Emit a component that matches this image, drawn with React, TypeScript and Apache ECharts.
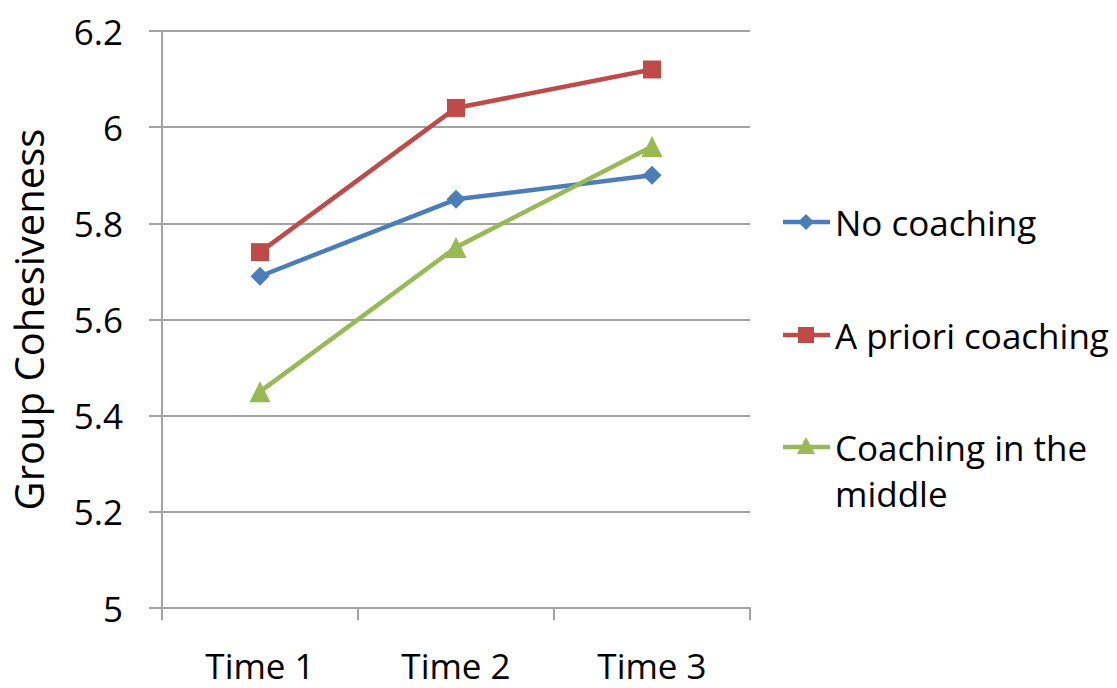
import React, { useEffect, useRef } from "react";
import * as echarts from "echarts";

const categories = ["Time 1", "Time 2", "Time 3"];
const noCoaching = [5.69, 5.85, 5.9];
const aPrioriCoaching = [5.74, 6.04, 6.12];
const coachingInMiddle = [5.45, 5.75, 5.96];
const seriesNames = ["No coaching", "A priori coaching", "Coaching in the\nmiddle"];
const seriesColors = ["#4A7EBB", "#BE4B48", "#98B954"];
const seriesSymbols = ["diamond", "rect", "triangle"];
const yTicks = { min: 5, max: 6.2, interval: 0.2 };

const FONT = "'Open Sans', sans-serif";

export default function App() {
  const ref = useRef<HTMLDivElement>(null);

  useEffect(() => {
    document.body.style.margin = "0";
    const chart = echarts.init(ref.current!, null, { renderer: "svg" });
    const data = [noCoaching, aPrioriCoaching, coachingInMiddle];
    const symbolSizes = [19, 18, 21];

    // legend entries: short line with marker, then label
    const legendTop = [222, 335, 447];
    const legendGraphics: any[] = [];
    seriesNames.forEach((name, i) => {
      const y = legendTop[i];
      const c = seriesColors[i];
      legendGraphics.push({
        type: "line",
        shape: { x1: 783, y1: y, x2: 830, y2: y },
        style: { stroke: c, lineWidth: 4.5 },
      });
      if (i === 0) {
        legendGraphics.push({
          type: "polygon",
          shape: { points: [[806, y - 8], [814, y], [806, y + 8], [798, y]] },
          style: { fill: c },
        });
      } else if (i === 1) {
        legendGraphics.push({
          type: "rect",
          shape: { x: 798, y: y - 8, width: 16, height: 16 },
          style: { fill: c },
        });
      } else {
        legendGraphics.push({
          type: "polygon",
          shape: { points: [[806, y - 10], [815, y + 7], [797, y + 7]] },
          style: { fill: c },
        });
      }
      legendGraphics.push({
        type: "text",
        x: 835,
        y: y - 23,
        style: {
          text: name,
          font: `35px ${FONT}`,
          fill: "#000",
          textAlign: "left",
          textVerticalAlign: "top",
          lineHeight: 46,
        },
      });
    });

    chart.setOption({
      animation: false,
      backgroundColor: "#fff",
      textStyle: { fontFamily: FONT },
      grid: { left: 162, right: 367, top: 31, bottom: 80, outerBoundsMode: "none", containLabel: false },
      xAxis: {
        type: "category",
        data: categories,
        boundaryGap: true,
        axisLine: { lineStyle: { color: "#A3A3A3", width: 2 } },
        axisTick: { show: true, length: 12, lineStyle: { color: "#A3A3A3", width: 2 } },
        axisLabel: { color: "#000", fontSize: 35, margin: 40, fontFamily: FONT },
        splitLine: { show: false },
      },
      yAxis: {
        type: "value",
        min: yTicks.min,
        max: yTicks.max,
        interval: yTicks.interval,
        name: "Group Cohesiveness",
        nameLocation: "middle",
        nameGap: 114,
        nameRotate: 90,
        nameTextStyle: { color: "#000", fontSize: 40, fontFamily: FONT },
        axisLine: { show: true, lineStyle: { color: "#A3A3A3", width: 2 } },
        axisTick: { show: true, length: 13, lineStyle: { color: "#A3A3A3", width: 2 } },
        axisLabel: { color: "#000", fontSize: 35, margin: 39, fontFamily: FONT },
        splitLine: { show: true, lineStyle: { color: "#A3A3A3", width: 2 } },
      },
      series: data.map((values, i) => ({
        name: seriesNames[i],
        type: "line",
        data: values,
        symbol: seriesSymbols[i],
        symbolSize: symbolSizes[i],
        itemStyle: { color: seriesColors[i] },
        lineStyle: { color: seriesColors[i], width: 4.5 },
        showSymbol: true,
      })),
      graphic: legendGraphics,
    });

    return () => chart.dispose();
  }, []);

  return <div ref={ref} style={{ width: 1117, height: 688 }} />;
}
